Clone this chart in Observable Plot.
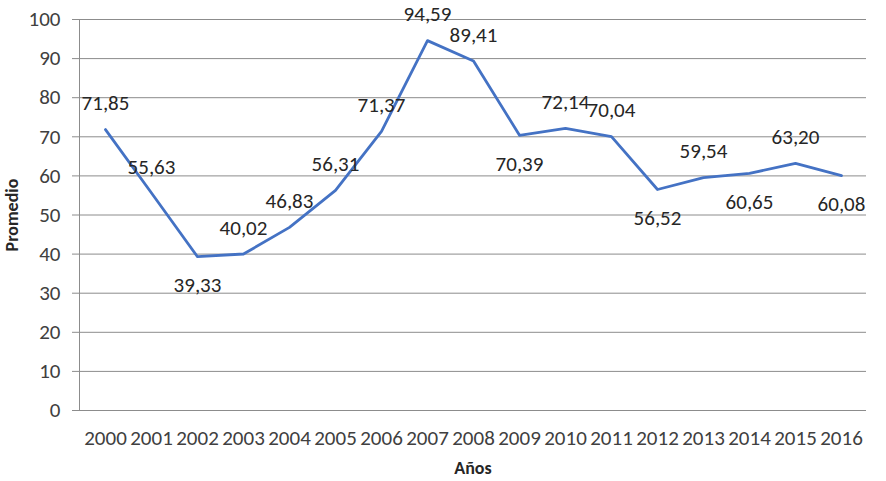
<!DOCTYPE html>
<html>
<head>
<meta charset="utf-8">
<script src="https://cdn.jsdelivr.net/npm/d3@7"></script>
<script src="https://cdn.jsdelivr.net/npm/@observablehq/plot@0.6"></script>
<style>
  html, body { margin: 0; padding: 0; background: #fff; }
  #chart svg { display: block; }
</style>
</head>
<body>
<div id="chart"></div>
<script>
// Data
const years = ["2000","2001","2002","2003","2004","2005","2006","2007","2008","2009","2010","2011","2012","2013","2014","2015","2016"];
const values = [71.85, 55.63, 39.33, 40.02, 46.83, 56.31, 71.37, 94.59, 89.41, 70.39, 72.14, 70.04, 56.52, 59.54, 60.65, 63.20, 60.08];
// Where each value label sits relative to its point
const labelSide = ["above","above","below","above","above","above","above","above","above","below","above","above","below","above","below","above","below"];
const yTicks = [0, 10, 20, 30, 40, 50, 60, 70, 80, 90, 100];

const data = years.map((year, i) => ({year, value: values[i], side: labelSide[i]}));
const fmt = v => v.toFixed(2).replace(".", ",");

const font = "Carlito, Lato, sans-serif";
const textColor = "#404040";
const gridColor = "#8c8c8c";
const fs = 21;

const chart = Plot.plot({
  width: 886,
  height: 481,
  marginLeft: 79,
  marginRight: 20,
  marginTop: 19,
  marginBottom: 71,
  style: {fontFamily: font, fontSize: fs + "px", color: textColor, background: "#fff"},
  x: {type: "point", domain: years, padding: 0.5},
  y: {domain: [0, 100]},
  marks: [
    Plot.gridY(yTicks, {stroke: gridColor, strokeOpacity: 1, strokeWidth: 1}),
    Plot.frame({anchor: "left", stroke: gridColor, strokeWidth: 1}),
    Plot.axisY(yTicks, {tickSize: 7, tickPadding: 12, stroke: gridColor, fill: textColor, label: null, fontSize: fs}),
    Plot.axisX(years, {tickSize: 0, tickPadding: 20, fill: textColor, label: null, fontSize: fs}),
    Plot.line(data, {x: "year", y: "value", stroke: "#4472C4", strokeWidth: 2.8, strokeLinejoin: "round"}),
    Plot.text(data.filter(d => d.side === "above"), {x: "year", y: "value", text: d => fmt(d.value), dy: -26, fill: "#262626", fontSize: fs}),
    Plot.text(data.filter(d => d.side === "below"), {x: "year", y: "value", text: d => fmt(d.value), dy: 29, fill: "#262626", fontSize: fs}),
    Plot.text(["Promedio"], {frameAnchor: "left", rotate: -90, dx: -67, textAnchor: "middle", lineAnchor: "middle", fontWeight: "bold", fontSize: 18, fill: "#262626"}),
    Plot.text(["Años"], {frameAnchor: "bottom", dy: 58, textAnchor: "middle", lineAnchor: "middle", fontWeight: "bold", fontSize: 18, fill: "#262626"})
  ]
});
document.getElementById("chart").append(chart);
</script>
</body>
</html>
